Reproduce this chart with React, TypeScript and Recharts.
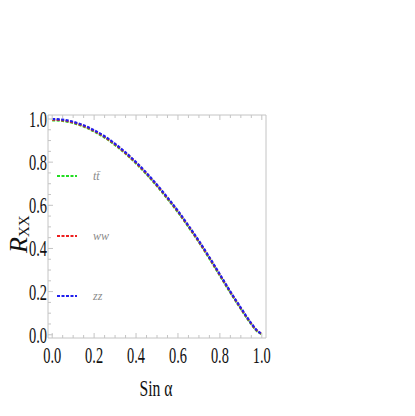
// R_XX versus sin(alpha) for three final states
import { LineChart, Line, XAxis, YAxis } from 'recharts';

const SIN_ALPHA = [0, 0.05, 0.1, 0.15, 0.2, 0.25, 0.3, 0.35, 0.4, 0.45, 0.5, 0.55, 0.6, 0.65, 0.7, 0.75, 0.8, 0.85, 0.9, 0.925, 0.95, 0.975, 1];

// values; the three curves nearly coincide
const R_TT = [0.994, 0.991, 0.981, 0.965, 0.942, 0.914, 0.879, 0.839, 0.794, 0.744, 0.689, 0.63, 0.568, 0.5, 0.429, 0.353, 0.274, 0.195, 0.12, 0.083, 0.049, 0.019, 0.002];
const R_WW = [0.997, 0.994, 0.984, 0.968, 0.945, 0.917, 0.882, 0.842, 0.797, 0.747, 0.692, 0.633, 0.571, 0.503, 0.432, 0.356, 0.277, 0.198, 0.122, 0.085, 0.051, 0.021, 0.003];
const R_ZZ = [1.0, 0.997, 0.987, 0.971, 0.948, 0.92, 0.885, 0.845, 0.8, 0.75, 0.695, 0.636, 0.574, 0.506, 0.435, 0.359, 0.28, 0.2, 0.125, 0.088, 0.053, 0.022, 0.004];

const X_TICKS = [0, 0.05, 0.1, 0.15, 0.2, 0.25, 0.3, 0.35, 0.4, 0.45, 0.5, 0.55, 0.6, 0.65, 0.7, 0.75, 0.8, 0.85, 0.9, 0.95, 1];
const Y_TICKS = [0, 0.05, 0.1, 0.15, 0.2, 0.25, 0.3, 0.35, 0.4, 0.45, 0.5, 0.55, 0.6, 0.65, 0.7, 0.75, 0.8, 0.85, 0.9, 0.95, 1];
const MAJOR = [0, 0.2, 0.4, 0.6, 0.8, 1];

const SERIES = [
  { key: 'tt', label: 'tt\u0304', color: '#22dd22' },
  { key: 'ww', label: 'ww', color: '#ee2020' },
  { key: 'zz', label: 'zz', color: '#2020ee' },
];

const data = SIN_ALPHA.map((s, i) => ({ s, tt: R_TT[i], ww: R_WW[i], zz: R_ZZ[i] }));

const FONT = '"Liberation Serif", "DejaVu Serif", serif';
const FRAME = '#c4c4c4';

const isMajor = (v: number) => MAJOR.some((m) => Math.abs(m - v) < 1e-6);

function makeTick(side: 'bottom' | 'top' | 'left' | 'right') {
  return (props: any) => {
    const { x, y, payload } = props;
    const v = payload.value as number;
    const major = isMajor(v);
    const len = major ? 5 : 3;
    let line;
    if (side === 'bottom') line = <line x1={x} y1={y} x2={x} y2={y - len} stroke={FRAME} />;
    else if (side === 'top') line = <line x1={x} y1={y} x2={x} y2={y + len} stroke={FRAME} />;
    else if (side === 'left') line = <line x1={x} y1={y} x2={x + len} y2={y} stroke={FRAME} />;
    else line = <line x1={x} y1={y} x2={x - len} y2={y} stroke={FRAME} />;
    let label = null;
    if (major && side === 'bottom') {
      label = (
        <text x={x} y={y + 25} textAnchor="middle" fontFamily={FONT} fontSize={23} fill="#111" textLength={18} lengthAdjust="spacingAndGlyphs">
          {v.toFixed(1)}
        </text>
      );
    }
    if (major && side === 'left') {
      label = (
        <text x={x - 1} y={y + 8} textAnchor="end" fontFamily={FONT} fontSize={23} fill="#111" textLength={18} lengthAdjust="spacingAndGlyphs">
          {v.toFixed(1)}
        </text>
      );
    }
    return (
      <g>
        {line}
        {label}
      </g>
    );
  };
}

function LegendBox() {
  return (
    <div style={{ position: 'absolute', left: 55, top: 168, width: 80, height: 140, pointerEvents: 'none' }}>
      {SERIES.map((s, i) => (
        <div key={s.key} style={{ position: 'absolute', left: 0, top: i * 60, height: 16, width: 80 }}>
          <svg width={80} height={16} style={{ display: 'block' }}>
            <line x1={2} y1={8} x2={22} y2={8} stroke={s.color} strokeWidth={2} strokeDasharray="3 1.5" />
            <text x={38} y={12} fontFamily={FONT} fontStyle="italic" fontSize={12} fill="#8a8a8a">
              {s.label}
            </text>
          </svg>
        </div>
      ))}
    </div>
  );
}

export default function App() {
  return (
    <div style={{ position: 'absolute', left: 0, top: 0, width: 415, height: 416, background: '#fff' }}>
      <LineChart width={415} height={416} data={data} margin={{ top: 114, right: 148, bottom: 77, left: 47 }}>
        <XAxis xAxisId="b" dataKey="s" type="number" domain={[-0.02, 1.02]} ticks={X_TICKS} interval={0} height={1} tickSize={0} tickMargin={0} tickLine={false} axisLine={{ stroke: FRAME }} tick={makeTick('bottom')} />
        <XAxis xAxisId="t" orientation="top" dataKey="s" type="number" domain={[-0.02, 1.02]} ticks={X_TICKS} interval={0} height={1} tickSize={0} tickMargin={0} tickLine={false} axisLine={{ stroke: FRAME }} tick={makeTick('top')} />
        <YAxis yAxisId="l" type="number" domain={[-0.015, 1.0185]} ticks={Y_TICKS} interval={0} width={1} tickSize={0} tickMargin={0} tickLine={false} axisLine={{ stroke: FRAME }} tick={makeTick('left')} />
        <YAxis yAxisId="r" orientation="right" type="number" domain={[-0.015, 1.0185]} ticks={Y_TICKS} interval={0} width={1} tickSize={0} tickMargin={0} tickLine={false} axisLine={{ stroke: FRAME }} tick={makeTick('right')} />
        {SERIES.map((s) => (
          <Line key={s.key} xAxisId="b" yAxisId="l" type="monotone" dataKey={s.key} stroke={s.color} strokeWidth={2.2} strokeDasharray="3 1.5" dot={false} isAnimationActive={false} />
        ))}
      </LineChart>
      <LegendBox />
      <svg width={415} height={416} style={{ position: 'absolute', left: 0, top: 0, pointerEvents: 'none' }}>
        <text x={156} y={396} textAnchor="middle" fontFamily={FONT} fontSize={23} fill="#111" textLength={33} lengthAdjust="spacingAndGlyphs">
          Sin α
        </text>
        <g transform="translate(27, 253) rotate(-90)">
          <text x={0} y={0} fontFamily={FONT} fill="#111">
            <tspan fontSize={26} fontStyle="italic">R</tspan>
            <tspan fontSize={15} dy={2}>XX</tspan>
          </text>
        </g>
      </svg>
    </div>
  );
}
